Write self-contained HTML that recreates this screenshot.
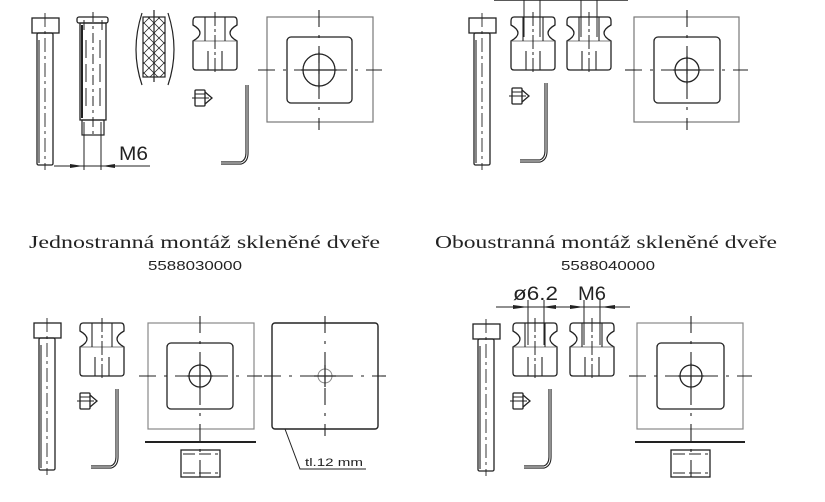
<!DOCTYPE html>
<html><head><meta charset="utf-8"><style>
html,body{margin:0;padding:0;background:#fff;}
svg{display:block;}
</style></head><body>
<svg width="825" height="502" viewBox="0 0 825 502" xmlns="http://www.w3.org/2000/svg">
<defs>
<g id="nut">
<path d="M3,0 H41 Q44,0 44,4 V8 Q37,12 37,16 Q37,20 44,24 V50 Q44,53 41,53 H3 Q0,53 0,50 V24 Q7,20 7,16 Q7,12 0,8 V4 Q0,0 3,0 Z" fill="none" stroke="#222" stroke-width="1.3"/>
<line x1="0" y1="24" x2="44" y2="24" stroke="#555" stroke-width="0.8"/>
<line x1="12" y1="0" x2="12" y2="24" stroke="#222" stroke-width="1.1"/>
<line x1="32" y1="0" x2="32" y2="24" stroke="#222" stroke-width="1.1"/>
<line x1="15" y1="34" x2="15" y2="53" stroke="#222" stroke-width="1.1"/>
<line x1="29" y1="34" x2="29" y2="53" stroke="#222" stroke-width="1.1"/>
<line x1="22" y1="-5" x2="22" y2="58" stroke="#222" stroke-width="1" stroke-dasharray="14,3,3,3"/>
</g>
<g id="bolt">
<rect x="0" y="0" width="27" height="15" fill="none" stroke="#222" stroke-width="1.3"/>
<rect x="5" y="15" width="16" height="132" rx="1.5" fill="none" stroke="#222" stroke-width="1.3"/>
<line x1="7" y1="22" x2="7" y2="145" stroke="#444" stroke-width="1.3"/>
<line x1="13" y1="-5" x2="13" y2="152" stroke="#222" stroke-width="0.9" stroke-dasharray="14,4,3,4"/>
</g>
<g id="screw">
<rect x="0" y="0" width="10" height="16" rx="1" fill="none" stroke="#222" stroke-width="1.3"/>
<path d="M10,2 L17,8 L10,14" fill="none" stroke="#222" stroke-width="1.3"/>
<line x1="-3" y1="8" x2="14" y2="8" stroke="#222" stroke-width="1"/>
<line x1="0" y1="4" x2="10" y2="4" stroke="#222" stroke-width="1"/>
</g>
<g id="key">
<path d="M26,0 V68 Q26,76 20,78 H0" fill="none" stroke="#222" stroke-width="3.2"/>
<path d="M26,0 V68 Q26,76 20,78 H0" fill="none" stroke="#fff" stroke-width="1"/>
</g>
</defs>

<g stroke="#222" fill="none">
<!-- TOP LEFT -->
<use href="#bolt" x="32" y="18"/>
<rect x="77" y="17" width="31" height="6" rx="2" stroke-width="1.3"/>
<rect x="80" y="23" width="26" height="97" stroke-width="1.3"/>
<line x1="82" y1="25" x2="82" y2="118" stroke-width="2"/>
<rect x="82" y="120" width="22" height="15" stroke-width="1.2"/>
<line x1="93" y1="12" x2="93" y2="138" stroke-width="1" stroke-dasharray="10,4,3,4"/>
<line x1="86" y1="40" x2="86" y2="110" stroke-width="1" stroke-dasharray="18,6"/>
<line x1="100" y1="40" x2="100" y2="110" stroke-width="1" stroke-dasharray="18,6"/>
<line x1="84" y1="20" x2="84" y2="30" stroke-width="1"/>
<line x1="102" y1="20" x2="102" y2="30" stroke-width="1"/>
<line x1="84" y1="122" x2="84" y2="170" stroke-width="1"/>
<line x1="101" y1="122" x2="101" y2="170" stroke-width="1"/>
<line x1="54" y1="166" x2="150" y2="166" stroke-width="1"/>
<path d="M70,164 L83,166 L70,168 Z M115,164 L102,166 L115,168 Z" fill="#222" stroke="none"/>
<path d="M142,13 Q130,50 142,85" stroke-width="1.2"/>
<path d="M168,13 Q180,50 168,85" stroke-width="1.2"/>
<rect x="143" y="17" width="22" height="60" stroke-width="1.2"/>
<g stroke-width="0.8">
<path d="M143,22 L165,44 M143,32 L165,54 M143,42 L165,64 M143,52 L165,74 M143,62 L158,77 M143,72 L148,77 M148,17 L165,34 M158,17 L165,24"/>
<path d="M165,22 L143,44 M165,32 L143,54 M165,42 L143,64 M165,52 L143,74 M165,62 L150,77 M165,72 L160,77 M160,17 L143,34 M150,17 L143,24"/>
</g>
<line x1="154" y1="10" x2="154" y2="82" stroke-width="1.2"/>
<use href="#nut" x="193" y="17"/>
<use href="#screw" x="195" y="90"/>
<use href="#key" x="221" y="85"/>
<rect x="267" y="17" width="106" height="105" stroke="#777" stroke-width="1.2"/>
<rect x="287" y="37" width="65" height="66" rx="4" stroke-width="1.3"/>
<circle cx="319" cy="70" r="16" stroke-width="1.3"/>
<line x1="319" y1="10" x2="319" y2="130" stroke-width="1.1" stroke-dasharray="17,8,3,8"/>
<line x1="258" y1="70" x2="382" y2="70" stroke-width="1.1" stroke-dasharray="17,8,3,8"/>
<path d="M301,70 H337 M319,52 V88" stroke-width="1.2"/>

<!-- TOP RIGHT -->
<line x1="494" y1="0" x2="628" y2="0" stroke-width="1.5"/>
<use href="#bolt" x="469" y="18"/>
<use href="#nut" x="511" y="17"/>
<use href="#nut" x="567" y="17"/>
<line x1="524" y1="0" x2="524" y2="37" stroke-width="1"/>
<line x1="540" y1="0" x2="540" y2="37" stroke-width="1"/>
<line x1="581" y1="0" x2="581" y2="37" stroke-width="1"/>
<line x1="597" y1="0" x2="597" y2="37" stroke-width="1"/>
<use href="#screw" x="512" y="88"/>
<use href="#key" x="520" y="83"/>
<rect x="634" y="17" width="105" height="105" stroke="#777" stroke-width="1.2"/>
<rect x="654" y="37" width="66" height="66" rx="4" stroke-width="1.3"/>
<circle cx="687" cy="70" r="12" stroke-width="1.3"/>
<line x1="687" y1="10" x2="687" y2="130" stroke-width="1.1" stroke-dasharray="17,8,3,8"/>
<line x1="625" y1="70" x2="748" y2="70" stroke-width="1.1" stroke-dasharray="17,8,3,8"/>
<path d="M673,70 H701 M687,56 V84" stroke-width="1.2"/>

<!-- BOTTOM LEFT -->
<use href="#bolt" x="34" y="323"/>
<use href="#nut" x="80" y="323"/>
<use href="#screw" x="80" y="393"/>
<use href="#key" x="91" y="389"/>
<rect x="148" y="323" width="106" height="106" stroke="#888" stroke-width="1.2"/>
<rect x="167" y="343" width="66" height="66" rx="4" stroke-width="1.3"/>
<circle cx="200" cy="376" r="11" stroke-width="1.3"/>
<line x1="200" y1="316" x2="200" y2="482" stroke-width="1.1" stroke-dasharray="17,8,3,8"/>
<line x1="139" y1="376" x2="262" y2="376" stroke-width="1.1" stroke-dasharray="17,8,3,8"/>
<path d="M187,376 H213 M200,363 V389" stroke-width="1.2"/>
<line x1="145" y1="442" x2="256" y2="442" stroke-width="2"/>
<rect x="181" y="450" width="39" height="27" stroke-width="1.3"/>
<line x1="183" y1="454" x2="218" y2="454" stroke-width="1" stroke-dasharray="12,4"/>
<line x1="183" y1="473" x2="218" y2="473" stroke-width="1" stroke-dasharray="12,4"/>
<rect x="272" y="323" width="106" height="106" rx="3" stroke-width="1.4"/>
<circle cx="325" cy="376" r="7" stroke="#888" stroke-width="1"/>
<line x1="325" y1="316" x2="325" y2="436" stroke-width="1.1" stroke-dasharray="17,8,3,8"/>
<line x1="264" y1="376" x2="386" y2="376" stroke-width="1.1" stroke-dasharray="17,8,3,8"/>
<path d="M314,376 H336 M325,365 V387" stroke-width="1.2"/>
<path d="M285,429 L300,469 L366,469" stroke-width="1"/>

<!-- BOTTOM RIGHT -->
<line x1="496" y1="307" x2="630" y2="307" stroke-width="1"/>
<path d="M513,305 L528,307 L513,309 Z M556,305 L542,307 L556,309 Z M570,305 L584,307 L570,309 Z M615,305 L601,307 L615,309 Z" fill="#222" stroke="none"/>
<use href="#bolt" x="473" y="324"/>
<use href="#nut" x="513" y="323"/>
<use href="#nut" x="570" y="323"/>
<line x1="528" y1="300" x2="528" y2="345" stroke-width="1"/>
<line x1="544" y1="300" x2="544" y2="345" stroke-width="1"/>
<line x1="584" y1="300" x2="584" y2="345" stroke-width="1"/>
<line x1="600" y1="300" x2="600" y2="345" stroke-width="1"/>
<use href="#screw" x="513" y="393"/>
<use href="#key" x="524" y="389"/>
<rect x="637" y="323" width="106" height="106" stroke="#888" stroke-width="1.2"/>
<rect x="657" y="343" width="67" height="66" rx="4" stroke-width="1.3"/>
<circle cx="691" cy="376" r="11" stroke-width="1.3"/>
<line x1="691" y1="316" x2="691" y2="482" stroke-width="1.1" stroke-dasharray="17,8,3,8"/>
<line x1="629" y1="376" x2="752" y2="376" stroke-width="1.1" stroke-dasharray="17,8,3,8"/>
<path d="M678,376 H704 M691,363 V389" stroke-width="1.2"/>
<line x1="635" y1="442" x2="745" y2="442" stroke-width="2"/>
<rect x="671" y="450" width="39" height="27" stroke-width="1.3"/>
<line x1="673" y1="454" x2="708" y2="454" stroke-width="1" stroke-dasharray="12,4"/>
<line x1="673" y1="473" x2="708" y2="473" stroke-width="1" stroke-dasharray="12,4"/>
</g>

<g fill="#222">
<text x="119" y="160" font-family="Liberation Sans, sans-serif" font-size="19" textLength="29" lengthAdjust="spacingAndGlyphs">M6</text>
<text x="29" y="248" font-family="Liberation Serif, serif" font-size="18" textLength="351" lengthAdjust="spacingAndGlyphs">Jednostranná montáž skleněné dveře</text>
<text x="148" y="270" font-family="Liberation Sans, sans-serif" font-size="13" textLength="94" lengthAdjust="spacingAndGlyphs">5588030000</text>
<text x="435" y="248" font-family="Liberation Serif, serif" font-size="18" textLength="342" lengthAdjust="spacingAndGlyphs">Oboustranná montáž skleněné dveře</text>
<text x="561" y="270" font-family="Liberation Sans, sans-serif" font-size="13" textLength="94" lengthAdjust="spacingAndGlyphs">5588040000</text>
<text x="513" y="300" font-family="Liberation Sans, sans-serif" font-size="19" textLength="45" lengthAdjust="spacingAndGlyphs">ø6.2</text>
<text x="578" y="300" font-family="Liberation Sans, sans-serif" font-size="19" textLength="28" lengthAdjust="spacingAndGlyphs">M6</text>
<text x="305" y="466" font-family="Liberation Sans, sans-serif" font-size="11" textLength="58" lengthAdjust="spacingAndGlyphs">tl.12  mm</text>
</g>
</svg>
</body></html>
